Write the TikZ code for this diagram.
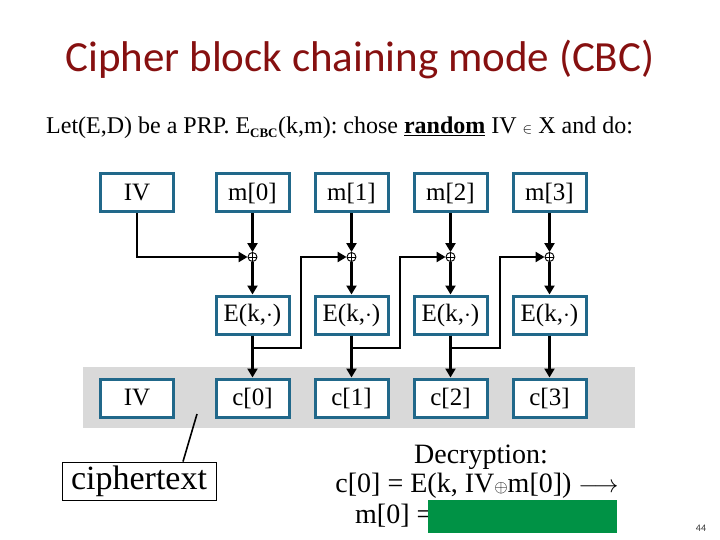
\documentclass[tikz,border=0pt]{standalone}
\usepackage{fontspec}
\usetikzlibrary{arrows.meta,calc}
\setmainfont{Liberation Serif}
\newfontfamily\titlefont{Carlito}
\newfontfamily\numfont{Carlito}
\definecolor{titlered}{RGB}{134,16,16}
\definecolor{boxteal}{RGB}{33,104,138}
\definecolor{bandgray}{RGB}{217,217,217}
\definecolor{greenbox}{RGB}{0,146,69}
\frenchspacing
\tikzset{
  blk/.style={draw=boxteal, line width=3pt, fill=white, minimum width=73pt, minimum height=38pt, inner sep=0pt, font=\fontsize{25}{28}\selectfont},
  arr/.style={line width=2.8pt, -{Triangle[length=9pt,width=10pt]}},
  xo/.style={circle, draw, line width=0.9pt, minimum size=9pt, inner sep=0pt, fill=white},
}
\begin{document}
\begin{tikzpicture}[x=1pt,y=-1pt]
\useasboundingbox (0,0) rectangle (720,540);
% title
\node[anchor=base, font=\titlefont\fontsize{43}{46}\selectfont, text=titlered, inner sep=0pt] (title) at (360,72) {Cipher block chaining mode (CBC)};
% subtitle
\node[anchor=base west, font=\fontsize{24}{27}\selectfont, inner sep=0pt] (sub) at (46,134)
 {Let(E,D) be a PRP. E$_{\textbf{\fontsize{13}{14}\selectfont CBC}}$(k,m): chose \textbf{\underline{random}} IV {\fontsize{15}{16}\selectfont$\in$} X and do:};
% gray band
\fill[bandgray] (83,367) rectangle (635,428);
% top row
\node[blk] (iv) at (137,193) {IV};
\node[blk] (m0) at (252.5,193) {m[0]};
\node[blk] (m1) at (351.5,193) {m[1]};
\node[blk] (m2) at (450.5,193) {m[2]};
\node[blk] (m3) at (549.5,193) {m[3]};
% xor
\foreach \i/\x in {0/252.5,1/351.5,2/450.5,3/549.5}{
  \node[xo] (x\i) at (\x,257) {};
  \draw[line width=0.9pt] (x\i.north) -- (x\i.south) (x\i.west) -- (x\i.east);
}
% E boxes
\node[blk] (e0) at (252.5,315) {E(k,$\cdot$)};
\node[blk] (e1) at (351.5,315) {E(k,$\cdot$)};
\node[blk] (e2) at (450.5,315) {E(k,$\cdot$)};
\node[blk] (e3) at (549.5,315) {E(k,$\cdot$)};
% c boxes
\node[blk] (civ) at (137,398) {IV};
\node[blk] (c0) at (252.5,398) {c[0]};
\node[blk] (c1) at (351.5,398) {c[1]};
\node[blk] (c2) at (450.5,398) {c[2]};
\node[blk] (c3) at (549.5,398) {c[3]};
% connectors
\draw[arr] (iv.south) |- (x0.west);
\foreach \i in {0,1,2,3}{
  \draw[arr] (m\i.south) -- (x\i.north);
  \draw[arr] (x\i.south) -- (e\i.north);
  \draw[arr] (e\i.south) -- (c\i.north);
}
\coordinate (b0) at (252.5,348); \coordinate (k1) at (301,348);
\coordinate (b1) at (351.5,348); \coordinate (k2) at (400,348);
\coordinate (b2) at (450.5,348); \coordinate (k3) at (500,348);
\draw[arr] (b0) -- (k1) |- (x1.west);
\draw[arr] (b1) -- (k2) |- (x2.west);
\draw[arr] (b2) -- (k3) |- (x3.west);
% ciphertext
\node[draw, line width=0.8pt, fill=white, minimum width=154pt, minimum height=38pt, inner sep=0pt, font=\fontsize{34}{36}\selectfont] (ct) at (139,481) {ciphertext};
\coordinate (lp) at (197,414);
\draw[line width=1.6pt] (lp) -- ($(ct.north)+(44,0)$);
% decryption
\node[anchor=base, inner sep=0pt, font=\fontsize{28}{30}\selectfont] (dec) at (481,463) {Decryption:};
\node[anchor=base, inner sep=0pt, font=\fontsize{28}{30}\selectfont] (dl1) at (477,492) {c[0] = E(k, IV{\fontsize{16}{16}\selectfont$\oplus$}m[0]) $\longrightarrow$};
\node[anchor=base west, inner sep=0pt, font=\fontsize{28}{30}\selectfont] (dl2) at (355,523) {m[0] =};
\fill[greenbox] (428,500) rectangle (617,533);
\node[anchor=base, inner sep=0pt, font=\numfont\fontsize{10}{12}\selectfont, text=black!80] (pg) at (701,531) {44};
\end{tikzpicture}
\end{document}
